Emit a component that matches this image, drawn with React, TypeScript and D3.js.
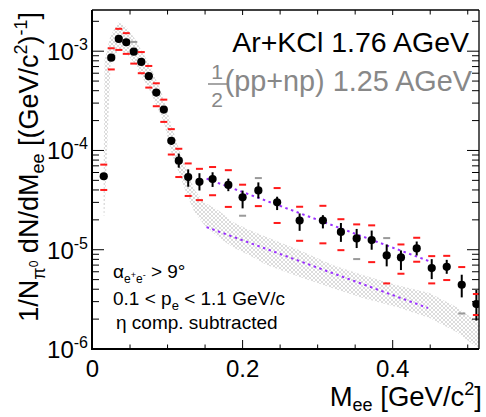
import React from "react";
import * as d3 from "d3";

// ---- data ----
const mass = [0.015, 0.025, 0.035, 0.045, 0.055, 0.065, 0.075, 0.085, 0.095, 0.105, 0.115, 0.1275, 0.1425, 0.16, 0.181, 0.2, 0.221, 0.246, 0.276, 0.307, 0.331, 0.352, 0.372, 0.392, 0.411, 0.432, 0.452, 0.472, 0.492, 0.5115];
const yieldVal = [5.5e-5, 8.6e-4, 1.33e-3, 1.23e-3, 9.9e-4, 7.8e-4, 5.6e-4, 3.83e-4, 2.58e-4, 1.25e-4, 7.9e-5, 5.4e-5, 4.83e-5, 5.16e-5, 4.5e-5, 3.37e-5, 3.96e-5, 3.0e-5, 1.97e-5, 1.97e-5, 1.51e-5, 1.3e-5, 1.25e-5, 8.77e-6, 8.37e-6, 1.03e-5, 6.53e-6, 6.73e-6, 4.44e-6, 2.84e-6];
const statLow = [5.1e-5, 8.3e-4, 1.29e-3, 1.19e-3, 9.6e-4, 7.5e-4, 5.4e-4, 3.7e-4, 2.48e-4, 1.15e-4, 6.7e-5, 4.31e-5, 3.95e-5, 4.29e-5, 3.89e-5, 2.61e-5, 3.29e-5, 2.51e-5, 1.55e-5, 1.64e-5, 1.2e-5, 1.04e-5, 1.0e-5, 6.8e-6, 6.24e-6, 8.76e-6, 5.06e-6, 5.72e-6, 3.31e-6, 1.93e-6];
const statHigh = [5.9e-5, 8.9e-4, 1.37e-3, 1.27e-3, 1.02e-3, 8.1e-4, 5.8e-4, 3.97e-4, 2.68e-4, 1.36e-4, 9.3e-5, 6.45e-5, 5.9e-5, 6.03e-5, 5.2e-5, 3.94e-5, 4.77e-5, 3.42e-5, 2.32e-5, 2.23e-5, 1.86e-5, 1.62e-5, 1.56e-5, 1.13e-5, 9.84e-6, 1.21e-5, 8.04e-6, 7.91e-6, 5.6e-6, 3.93e-6];
const sysHigh = [7.2e-5, 1.07e-3, 1.68e-3, 1.52e-3, 1.24e-3, 9.8e-4, 7.1e-4, 4.75e-4, 3.25e-4, 1.64e-4, 1.04e-4, 7.4e-5, 6.53e-5, 6.81e-5, 6.33e-5, 4.52e-5, 5.27e-5, 4.18e-5, 2.71e-5, 2.77e-5, 2.03e-5, 1.8e-5, 1.76e-5, 1.31e-5, 1.13e-5, 1.32e-5, 8.62e-6, 8.68e-6, 6.69e-6, 3.58e-6];
const sysLow = [4.0e-5, 6.55e-4, 1.03e-3, 9.4e-4, 7.5e-4, 6.0e-4, 4.3e-4, 2.79e-4, 1.94e-4, 9.1e-5, 5.4e-5, 3.48e-5, 3.16e-5, 3.54e-5, 2.7e-5, 2.2e-5, 2.75e-5, 1.86e-5, 1.23e-5, 1.16e-5, 9.9e-6, 8.05e-6, 7.5e-6, 4.58e-6, 5.73e-6, 7.57e-6, 4.58e-6, 4.95e-6, 2.28e-6, 2.2e-6];
const upperGrayIdx = [4, 16, 23];
const lowerGrayIdx = [15, 21, 28];

// 1/2(pp+np) reference band
const bandMass = [0.0147, 0.016, 0.024, 0.035, 0.045, 0.056, 0.065, 0.076, 0.085, 0.095, 0.105, 0.116, 0.127, 0.136, 0.149, 0.169, 0.187, 0.209, 0.232, 0.276, 0.32, 0.36, 0.405, 0.449, 0.485, 0.515];
const bandHigh = [3.2e-5, 8.1e-4, 1.45e-3, 1.96e-3, 1.75e-3, 1.35e-3, 1.02e-3, 7.4e-4, 5.1e-4, 3.36e-4, 1.8e-4, 1.0e-4, 6.05e-5, 4.0e-5, 3.0e-5, 2.45e-5, 1.9e-5, 1.58e-5, 1.34e-5, 9.9e-6, 7.0e-6, 5.56e-6, 4.41e-6, 3.66e-6, 2.65e-6, 1.83e-6];
const bandLow = [2.2e-5, 2.2e-5, 7.2e-4, 1.02e-3, 9.55e-4, 7.57e-4, 5.73e-4, 4.05e-4, 2.86e-4, 1.93e-4, 9.6e-5, 5.65e-5, 3.39e-5, 2.39e-5, 1.77e-5, 1.31e-5, 1.06e-5, 8.8e-6, 7.0e-6, 5.3e-6, 4.1e-6, 3.26e-6, 2.65e-6, 2.05e-6, 1.48e-6, 1.0e-6];

// exponential fits
const fitArMass = [0.152, 0.449];
const fitArYield = [5.2e-5, 7.65e-6];
const fitNNMass = [0.152, 0.447];
const fitNNYield = [1.69e-5, 2.59e-6];

const xTicksMajor = [0, 0.2, 0.4];
const xTickLabels = ["0", "0.2", "0.4"];
const xTicksMinor = [0.05, 0.1, 0.15, 0.25, 0.3, 0.35, 0.45, 0.5];
const yDecades = [-3, -4, -5, -6];

const FONT = "'Liberation Sans', Arial, Helvetica, sans-serif";

export default function App() {
  const X0 = 92, X1 = 479, Y0 = 10, Y1 = 349;
  const x = d3.scaleLinear().domain([0, 0.515]).range([92.5, 479]);
  const y = d3.scaleLog().domain([1e-6, 2.6e-3]).range([Y1, Y0]);

  const band = bandMass.map((m, i) => ({ m, lo: bandLow[i], hi: bandHigh[i] }));
  const areaGen = d3.area<any>().x(d => x(d.m)).y0(d => y(d.lo)).y1(d => y(d.hi));
  const lineGen = d3.line<any>().x(d => x(d[0])).y(d => y(d[1]));
  const fitAr = fitArMass.map((m, i) => [m, fitArYield[i]]);
  const fitNN = fitNNMass.map((m, i) => [m, fitNNYield[i]]);

  const yMinor: { v: number; major: boolean }[] = [];
  for (let d = -6; d <= -3; d++) {
    for (let k = 1; k <= 9; k++) {
      const v = k * Math.pow(10, d);
      if (v >= 1e-6 && v <= 2.6e-3) yMinor.push({ v, major: k === 1 });
    }
  }

  const red = "#ff1a1a";
  const gray = "#9a9a9a";
  const purple = "#9b30ff";

  return (
    <svg width={486} height={417} style={{ display: "block", position: "absolute", left: 0, top: 0 }} fontFamily={FONT}>
      <defs>
        <pattern id="hatch" width="4" height="4" patternUnits="userSpaceOnUse">
          <path d="M0,0 L4,4 M4,0 L0,4" stroke="#c4c4c4" strokeWidth="0.6" />
        </pattern>
        <clipPath id="plotclip">
          <rect x={X0} y={Y0} width={X1 - X0} height={Y1 - Y0} />
        </clipPath>
      </defs>
      <rect x={0} y={0} width={486} height={417} fill="#fff" />

      <g clipPath="url(#plotclip)">
        <path d={areaGen(band) || ""} fill="url(#hatch)" stroke="none" />
        <path d={lineGen(fitNN) || ""} fill="none" stroke={purple} strokeWidth={2} strokeDasharray="2.5,3.5" />
        <path d={lineGen(fitAr) || ""} fill="none" stroke={purple} strokeWidth={2} strokeDasharray="2.5,3.5" />

        {mass.map((m, i) => (
          <g key={"e" + i}>
            <line x1={x(m)} x2={x(m)} y1={y(statLow[i])} y2={y(statHigh[i])} stroke="#000" strokeWidth={2} />
            <rect x={x(m) - 3.5} y={y(sysHigh[i]) - 1} width={7} height={2}
              fill={upperGrayIdx.includes(i) ? gray : red} />
            <rect x={x(m) - 3.5} y={y(sysLow[i]) - 1} width={7} height={2}
              fill={lowerGrayIdx.includes(i) ? gray : red} />
            <circle cx={x(m)} cy={y(yieldVal[i])} r={4.1} fill="#000" />
          </g>
        ))}
      </g>

      {/* frame */}
      <line x1={X0} x2={X1} y1={Y0} y2={Y0} stroke="#000" strokeWidth={1.3} />
      <line x1={X1} x2={X1} y1={Y0} y2={Y1} stroke="#000" strokeWidth={1.3} />
      <line x1={X0} x2={X0} y1={Y0} y2={Y1 + 1} stroke="#000" strokeWidth={2} />
      <line x1={X0 - 1} x2={X1} y1={Y1} y2={Y1} stroke="#000" strokeWidth={2} />

      {/* x ticks */}
      {xTicksMajor.map(t => (
        <g key={"xM" + t}>
          <line x1={x(t)} x2={x(t)} y1={Y1} y2={Y1 - 9} stroke="#000" strokeWidth={1} />
          <line x1={x(t)} x2={x(t)} y1={Y0} y2={Y0 + 5} stroke="#000" strokeWidth={1} />
        </g>
      ))}
      {xTicksMinor.map(t => (
        <g key={"xm" + t}>
          <line x1={x(t)} x2={x(t)} y1={Y1} y2={Y1 - 4.5} stroke="#000" strokeWidth={1} />
          <line x1={x(t)} x2={x(t)} y1={Y0} y2={Y0 + 4.5} stroke="#000" strokeWidth={1} />
        </g>
      ))}
      {xTicksMajor.map((t, i) => (
        <text key={"xl" + t} x={x(t)} y={377} textAnchor="middle" fontSize={24} fill="#000">{xTickLabels[i]}</text>
      ))}

      {/* y ticks */}
      {yMinor.map((t, i) => (
        <g key={"y" + i}>
          <line x1={X0} x2={X0 + (t.major ? 12 : 7)} y1={y(t.v)} y2={y(t.v)} stroke="#000" strokeWidth={1} />
          <line x1={X1} x2={X1 - (t.major ? 12 : 7)} y1={y(t.v)} y2={y(t.v)} stroke="#000" strokeWidth={1} />
        </g>
      ))}
      {yDecades.map(d => (
        <text key={"yl" + d} x={88} y={y(Math.pow(10, d)) + 9} textAnchor="end" fontSize={24} fill="#000">
          10<tspan dy={-10} fontSize={16}>{"-" + Math.abs(d)}</tspan>
        </text>
      ))}

      {/* axis titles */}
      <text x={482} y={406} textAnchor="end" fontSize={27.5} fill="#000">
        M<tspan dy={5} fontSize={18}>ee</tspan><tspan dy={-5}> [GeV/c</tspan><tspan dy={-11} fontSize={18}>2</tspan><tspan dy={11}>]</tspan>
      </text>
      <text transform="translate(38,12) rotate(-90)" textAnchor="end" fontSize={27} fill="#000">
        1/N<tspan dy={7} fontSize={18}>π</tspan><tspan dy={-7} fontSize={12}>0</tspan><tspan dy={0} fontSize={27}> dN/dM</tspan><tspan dy={6} fontSize={18}>ee</tspan><tspan dy={-6} fontSize={27}> [(GeV/c</tspan><tspan dy={-11} fontSize={18}>2</tspan><tspan dy={11} fontSize={27}>)</tspan><tspan dy={-11} fontSize={18}>-1</tspan><tspan dy={11} fontSize={27}>]</tspan>
      </text>

      {/* legend-like labels */}
      <text x={469} y={52} textAnchor="end" fontSize={28.5} fill="#000">Ar+KCl 1.76 AGeV</text>
      <text x={217} y={79} textAnchor="middle" fontSize={21} fill="#888">1</text>
      <line x1={208} x2={227} y1={84} y2={84} stroke="#888" strokeWidth={1.5} />
      <text x={217} y={107} textAnchor="middle" fontSize={21} fill="#888">2</text>
      <text x={472} y={91} textAnchor="end" fontSize={28.8} fill="#888">(pp+np) 1.25 AGeV</text>

      <text x={113} y={278} fontSize={19} fill="#000">
        α<tspan dy={5} fontSize={12}>e</tspan><tspan dy={-5} fontSize={9}>+</tspan><tspan dy={5} fontSize={12}>e</tspan><tspan dy={-5} fontSize={9}>-</tspan><tspan dy={0} fontSize={19}> &gt; 9°</tspan>
      </text>
      <text x={113} y={305} fontSize={19} fill="#000">
        0.1 &lt; p<tspan dy={5} fontSize={13}>e</tspan><tspan dy={-5} fontSize={19}> &lt; 1.1 GeV/c</tspan>
      </text>
      <text x={116} y={329} fontSize={19} fill="#000">η comp. subtracted</text>
    </svg>
  );
}
